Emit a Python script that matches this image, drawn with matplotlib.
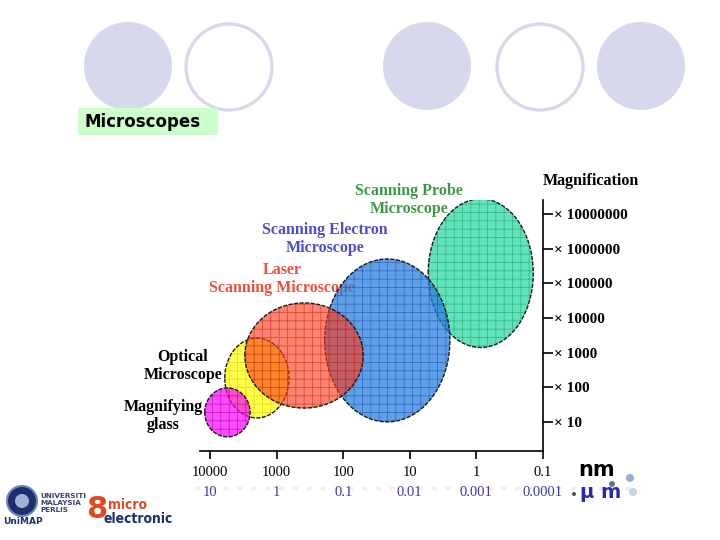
import numpy as np
import matplotlib
matplotlib.use("Agg")
import matplotlib.pyplot as plt
from matplotlib.patches import Circle, Rectangle

plt.rcParams["hatch.linewidth"] = 0.6

# ------------------------------------------------------------------
# data: resolution range (nm) and magnification range of each type
# ------------------------------------------------------------------
names = ["Scanning Probe\nMicroscope", "Scanning Electron\nMicroscope",
         "Optical\nMicroscope", "Laser\nScanning Microscope", "Magnifying\nglass"]
res_lo_nm = [0.14, 2.5, 650, 50, 2500]
res_hi_nm = [5.3, 190, 6000, 3000, 12000]
mag_lo = [1400, 10, 13, 25, 3.7]
mag_hi = [2.7e7, 5e5, 2600, 27000, 95]

face_colors = ["#20D8A0", "#2A7FE0", "#FFFF00", "#FF3A1A", "#FF00FF"]
grid_colors = ["#1E9E6E", "#1C4FA8", "#D8C800", "#C82010", "#A000A0"]
label_colors = ["#3C9A48", "#4E4ECC", "black", "#F0503C", "black"]
label_pos_px = [(409, 200), (325, 239), (183, 366), (282, 279), (163, 416)]

nm_ticks = [10000, 1000, 100, 10, 1, 0.1]
nm_labels = ["10000", "1000", "100", "10", "1", "0.1"]
um_labels = ["10", "1", "0.1", "0.01", "0.001", "0.0001"]
mag_ticks = [10, 100, 1000, 10000, 100000, 1000000, 10000000]
mag_labels = ["\u00d7 " + str(m) for m in mag_ticks]

# decoration circles on the slide header (pixels)
deco_x = [128, 229, 427, 540, 641]
deco_filled = [True, False, True, False, True]

fig = plt.figure(figsize=(7.2, 5.4), dpi=100)

# slide decoration layer in pixel coordinates
deco = fig.add_axes([0, 0, 1, 1], zorder=0)
deco.set_xlim(0, 720)
deco.set_ylim(540, 0)
deco.axis("off")

lav = "#D8D8EC"
for cx, filled in zip(deco_x, deco_filled):
    if filled:
        deco.add_patch(Circle((cx, 66), 44, facecolor=lav, edgecolor="none"))
    else:
        deco.add_patch(Circle((cx, 67), 43, facecolor="none", edgecolor=lav, lw=2.4))

deco.add_patch(Rectangle((78, 108), 140, 27, facecolor="#CCFFCC", edgecolor="none"))
deco.text(85, 122, "Microscopes", fontsize=12, fontweight="bold",
          family="DejaVu Sans", va="center", ha="left", color="black")

# ------------------------------------------------------------------
# main chart
# ------------------------------------------------------------------
ax = fig.add_axes([200 / 720, 1 - 451 / 540, 343 / 720, 251 / 540], zorder=1)
ax.patch.set_alpha(0)
ax.set_xscale("log")
ax.set_yscale("log")
ax.set_xlim(10 ** 4.15, 0.1)
ax.set_ylim(10 ** 0.16, 10 ** 7.4)

t = np.linspace(0, 2 * np.pi, 240)
alphas = [0.7, 0.75, 0.7, 0.62, 0.7]
for i in range(len(names)):
    lx0, lx1 = np.log10(res_lo_nm[i]), np.log10(res_hi_nm[i])
    ly0, ly1 = np.log10(mag_lo[i]), np.log10(mag_hi[i])
    xs = 10 ** ((lx0 + lx1) / 2 + (lx1 - lx0) / 2 * np.cos(t))
    ys = 10 ** ((ly0 + ly1) / 2 + (ly1 - ly0) / 2 * np.sin(t))
    z = 2 + i
    ax.fill(xs, ys, facecolor=face_colors[i], edgecolor="none", alpha=alphas[i], zorder=z)
    ax.fill(xs, ys, facecolor="none", edgecolor=grid_colors[i], hatch="++",
            lw=0, alpha=0.6, zorder=z)
    ax.plot(xs, ys, color="#1a1a1a", lw=1.0, ls=(0, (3, 1)), zorder=z + 0.5)

for sp in ["left", "top"]:
    ax.spines[sp].set_visible(False)
ax.spines["bottom"].set_linewidth(1.2)
ax.spines["right"].set_linewidth(1.2)

ax.set_xticks(nm_ticks)
ax.set_xticklabels(nm_labels, family="Liberation Serif", fontsize=10.5)
ax.xaxis.set_minor_locator(matplotlib.ticker.NullLocator())
ax.tick_params(axis="x", direction="out", length=6, width=1.2, pad=5)

ax.yaxis.tick_right()
ax.set_yticks(mag_ticks)
ax.set_yticklabels(mag_labels, family="Liberation Serif", fontsize=11, fontweight="bold")
ax.yaxis.set_minor_locator(matplotlib.ticker.NullLocator())
ax.tick_params(axis="y", direction="out", length=7, width=1.2, pad=1)

# second row of x labels in micrometres
for v, lab in zip(nm_ticks, um_labels):
    ax.text(v, -0.167, lab, transform=ax.get_xaxis_transform(), ha="center",
            va="center", fontsize=10.5, family="Liberation Serif", color="#3A3AA8")

ax.text(1.0, 1.075, "Magnification", transform=ax.transAxes, ha="left", va="center",
        fontsize=11.5, fontweight="bold", family="Liberation Serif")

# microscope labels
for i in range(len(names)):
    px, py = label_pos_px[i]
    deco.text(px, py, names[i], ha="center", va="center", multialignment="center",
              fontsize=11.5, fontweight="bold", family="Liberation Serif",
              color=label_colors[i], linespacing=1.2, zorder=10)

# unit labels and faint dots
deco.plot([195, 640], [488, 488], color="#EDEDF2", lw=2.5, ls=(0, (1.5, 2.5)), zorder=0)
for (dx, dy, r, c) in [(612, 484, 3, "#3A4E8A"), (630, 478, 4, "#7F9CC8"),
                       (633, 492, 4, "#B8CCE0"), (574, 494, 2, "#222222")]:
    deco.add_patch(Circle((dx, dy), r, facecolor=c, edgecolor="none", alpha=0.8))
deco.text(597, 470, "nm", ha="center", va="center", fontsize=15, color="black",
          fontweight="bold", family="DejaVu Sans")
deco.text(601, 492, "\u03bc m", ha="center", va="center", fontsize=14, color="#2A2AB0",
          fontweight="bold", family="DejaVu Sans")

# logos (approximate)
deco.add_patch(Circle((22, 501), 15, facecolor="#1E2F6E", edgecolor="#6F86B8", lw=1.5))
deco.add_patch(Circle((22, 501), 7, facecolor="#9FB2D6", edgecolor="none"))
deco.text(40, 503, "UNIVERSITI\nMALAYSIA\nPERLIS", fontsize=5.2, fontweight="bold",
          color="#3A3F7A", va="center", ha="left", linespacing=1.1, family="DejaVu Sans")
deco.text(3, 521, "UniMAP", fontsize=6.5, fontweight="bold", color="#1E2F6E",
          va="center", ha="left", family="DejaVu Sans")
deco.text(97, 509, "8", fontsize=22, fontweight="bold", color="#E04A20",
          va="center", ha="center", family="DejaVu Sans")
deco.text(108, 505, "micro", fontsize=10, fontweight="bold", color="#E04A20",
          va="center", ha="left", family="DejaVu Sans", stretch="condensed")
deco.text(103, 519, "electronic", fontsize=10, fontweight="bold", color="#1E2F6E",
          va="center", ha="left", family="DejaVu Sans", stretch="condensed")

fig.savefig("out.png", dpi=100)
